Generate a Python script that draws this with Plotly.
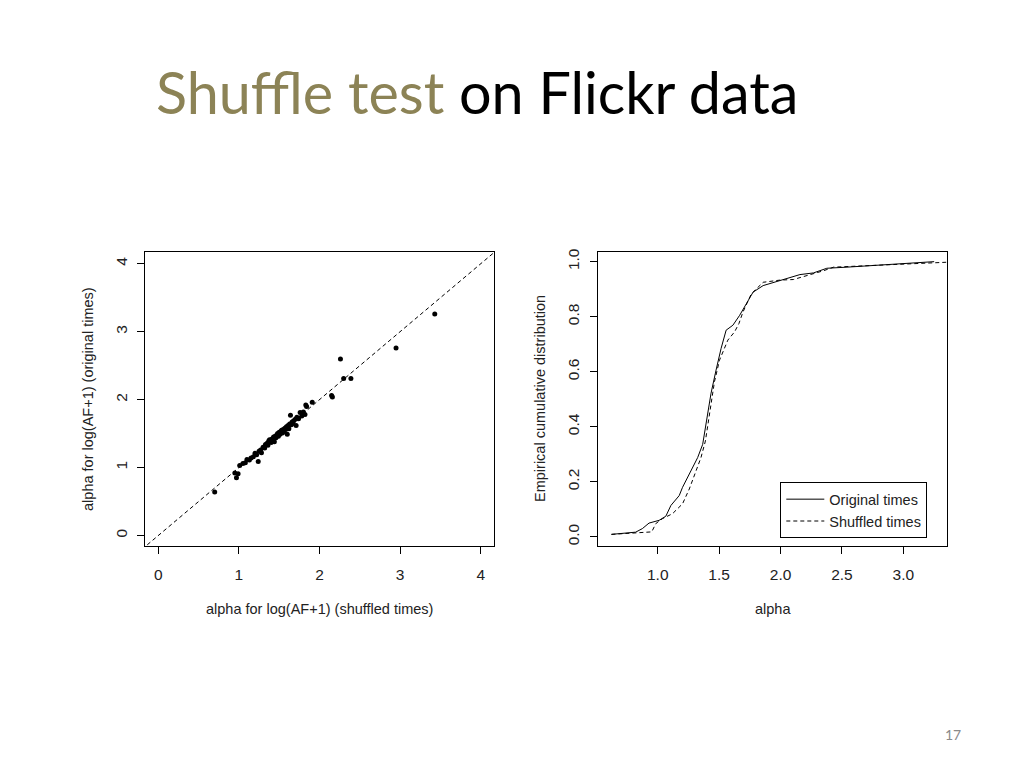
import plotly.graph_objects as go

# ---- data ----
shuffled_alpha = [0.70, 0.95, 0.97, 0.99, 1.01, 1.05, 1.08, 1.10, 1.13, 1.15, 1.18, 1.20, 1.22, 1.24,
                  1.25, 1.27, 1.28, 1.30, 1.32, 1.33, 1.35, 1.36, 1.37, 1.38, 1.40, 1.41, 1.42, 1.43,
                  1.44, 1.45, 1.46, 1.47, 1.48, 1.49, 1.50, 1.51, 1.52, 1.53, 1.54, 1.55, 1.56, 1.57,
                  1.58, 1.59, 1.60, 1.61, 1.62, 1.63, 1.64, 1.65, 1.66, 1.67, 1.68, 1.70, 1.71, 1.72,
                  1.74, 1.76, 1.78, 1.80, 1.82, 1.84, 1.83, 1.91, 2.15, 2.16, 2.26, 2.30, 2.39, 2.95, 3.43]
original_alpha = [0.64, 0.92, 0.85, 0.91, 1.03, 1.06, 1.07, 1.12, 1.11, 1.14, 1.16, 1.21, 1.19, 1.09,
                  1.24, 1.26, 1.22, 1.30, 1.29, 1.34, 1.36, 1.33, 1.39, 1.41, 1.37, 1.42, 1.40, 1.45,
                  1.38, 1.46, 1.44, 1.48, 1.50, 1.46, 1.52, 1.49, 1.53, 1.55, 1.51, 1.56, 1.53, 1.58,
                  1.56, 1.60, 1.49, 1.62, 1.57, 1.64, 1.77, 1.63, 1.67, 1.65, 1.69, 1.71, 1.62, 1.74,
                  1.72, 1.81, 1.76, 1.82, 1.78, 1.90, 1.92, 1.96, 2.06, 2.04, 2.60, 2.31, 2.31, 2.76, 3.26]
diag_ref = [-1, 5]

orig_ecdf_x = [0.623, 0.82, 0.875, 0.929, 1.011, 1.066, 1.107, 1.175, 1.202, 1.257, 1.325, 1.366,
               1.393, 1.434, 1.475, 1.516, 1.557, 1.612, 1.667, 1.721, 1.776, 1.858, 1.967, 2.077,
               2.158, 2.268, 2.377, 2.541, 2.814, 3.087, 3.251]
orig_ecdf_y = [0.009, 0.017, 0.030, 0.050, 0.060, 0.075, 0.114, 0.150, 0.180, 0.228, 0.288, 0.336,
               0.408, 0.522, 0.606, 0.685, 0.751, 0.769, 0.805, 0.847, 0.889, 0.913, 0.928, 0.944,
               0.953, 0.959, 0.976, 0.980, 0.988, 0.996, 1.000]
shuf_ecdf_x = [0.623, 0.902, 0.951, 0.984, 1.038, 1.120, 1.202, 1.257, 1.311, 1.352, 1.388, 1.421,
               1.462, 1.503, 1.571, 1.626, 1.661, 1.694, 1.762, 1.858, 1.995, 2.104, 2.213, 2.350,
               2.432, 2.814, 3.087, 3.251, 3.36]
shuf_ecdf_y = [0.009, 0.017, 0.018, 0.048, 0.066, 0.084, 0.120, 0.174, 0.240, 0.288, 0.348, 0.444,
               0.564, 0.642, 0.715, 0.745, 0.775, 0.817, 0.883, 0.925, 0.933, 0.935, 0.949, 0.967,
               0.980, 0.988, 0.992, 0.996, 0.998]

W, H = 1024, 768
OFF = 8  # page body margin
TXT = "#222222"
FONT = "Liberation Sans, Arial, sans-serif"

def px(x):
    return (x - OFF) / W

def py(y):
    return 1 - (y - OFF) / H

fig = go.Figure()

fig.add_trace(go.Scatter(x=diag_ref, y=diag_ref, mode="lines",
                         line=dict(color="black", width=1, dash="4px,3px"),
                         xaxis="x", yaxis="y", showlegend=False, hoverinfo="skip"))
fig.add_trace(go.Scatter(x=shuffled_alpha, y=original_alpha, mode="markers",
                         marker=dict(color="black", size=5),
                         xaxis="x", yaxis="y", showlegend=False))

fig.add_trace(go.Scatter(x=orig_ecdf_x, y=orig_ecdf_y, mode="lines", name="Original times",
                         line=dict(color="black", width=1),
                         xaxis="x2", yaxis="y2"))
fig.add_trace(go.Scatter(x=shuf_ecdf_x, y=shuf_ecdf_y, mode="lines", name="Shuffled times",
                         line=dict(color="black", width=1, dash="4px,3px"),
                         xaxis="x2", yaxis="y2"))

ax_common = dict(showgrid=False, zeroline=False, showline=True, linecolor="black", linewidth=1,
                 mirror=True, ticks="outside", ticklen=7, tickcolor="black", tickwidth=1,
                 tickfont=dict(family=FONT, size=15.5, color=TXT))

ydom = [py(545), py(249)]
fig.update_layout(
    width=W, height=H,
    margin=dict(l=0, r=0, t=0, b=0),
    paper_bgcolor="white", plot_bgcolor="white",
    xaxis=dict(domain=[px(145.3), px(494)], range=[-0.161, 4.165], tickvals=[0, 1, 2, 3, 4],
               anchor="y", ticklabelstandoff=7, **ax_common),
    yaxis=dict(domain=ydom, range=[-0.157, 4.177], tickvals=[0, 1, 2, 3, 4], tickangle=-90,
               anchor="x", ticklabelstandoff=4, **ax_common),
    xaxis2=dict(domain=[px(598.3), px(946.7)], range=[0.516, 3.353],
                tickvals=[1.0, 1.5, 2.0, 2.5, 3.0], ticktext=["1.0", "1.5", "2.0", "2.5", "3.0"],
                anchor="y2", ticklabelstandoff=7, **ax_common),
    yaxis2=dict(domain=ydom, range=[-0.034, 1.036],
                tickvals=[0, 0.2, 0.4, 0.6, 0.8, 1.0], ticktext=["0.0", "0.2", "0.4", "0.6", "0.8", "1.0"],
                tickangle=-90, anchor="x2", ticklabelstandoff=5, **ax_common),
    legend=dict(x=px(780.3), y=py(480.7), xanchor="left", yanchor="top",
                bordercolor="black", borderwidth=1, bgcolor="white", itemwidth=38,
                font=dict(family=FONT, size=14.5, color=TXT), tracegroupgap=0),
    showlegend=True,
)

annos = [
    dict(text="alpha for log(AF+1) (shuffled times)", x=px(319.7), y=py(608)),
    dict(text="alpha for log(AF+1) (original times)", x=px(88), y=py(397), textangle=-90),
    dict(text="alpha", x=px(772.5), y=py(608)),
    dict(text="Empirical cumulative distribution", x=px(540), y=py(397), textangle=-90),
]
for a in annos:
    fig.add_annotation(xref="paper", yref="paper", xanchor="center", yanchor="middle",
                       showarrow=False, font=dict(family=FONT, size=14.5, color=TXT), **a)

fig.add_annotation(xref="paper", yref="paper", x=px(154), y=py(88), xanchor="left", yanchor="middle",
                   showarrow=False,
                   text="<span style='color:#8C8356'>Shuffle test</span> on Flickr data",
                   font=dict(family="Lato, Open Sans, sans-serif", size=57.5, color="black"))
fig.add_annotation(xref="paper", yref="paper", x=px(953), y=py(734), xanchor="center", yanchor="middle",
                   showarrow=False, text="17",
                   font=dict(family="Lato, Open Sans, sans-serif", size=14, color="#8a8a8a"))

fig.write_html("out.html")
